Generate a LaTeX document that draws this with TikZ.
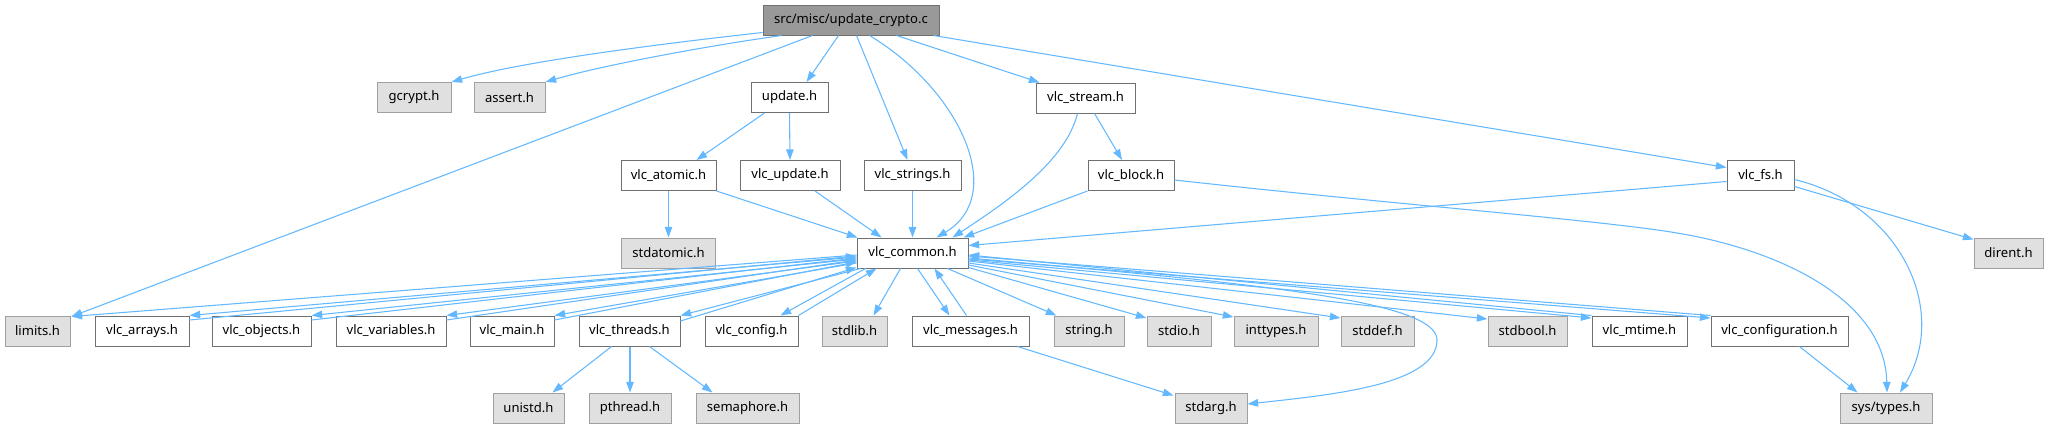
\documentclass[tikz,border=0pt]{standalone}
\usepackage{fontspec}
\setmainfont{Noto Sans}
\usetikzlibrary{arrows.meta,calc}
\definecolor{edgec}{HTML}{63B8FF}
\definecolor{wbord}{HTML}{707070}
\definecolor{gbord}{HTML}{A0A0A0}
\definecolor{gfill}{HTML}{E0E0E0}
\definecolor{rfill}{HTML}{999999}
\begin{document}
\begin{tikzpicture}[x=0.75pt,y=-0.75pt,
  box/.style={draw, line width=0.75pt, minimum height=22.5pt, inner sep=0pt, font=\fontsize{9.8pt}{11pt}\selectfont, text=black},
  wbox/.style={box, draw=wbord, fill=white},
  gbox/.style={box, draw=gbord, fill=gfill},
  rbox/.style={box, draw=wbord, fill=rfill},
  e/.style={draw=edgec, line width=0.8pt, -{Triangle[length=8pt,width=5.6pt]}, fill=none},
]
\useasboundingbox (0,0) rectangle (2051,429);
% row 0
\node[rbox, minimum width=132pt] (root) at (851,20) {src/misc/update\_crypto.c};
% row 1
\node[gbox, minimum width=55.5pt] (gcrypt) at (414,97.5) {gcrypt.h};
\node[gbox, minimum width=53.25pt] (assert) at (509.5,97.5) {assert.h};
\node[wbox, minimum width=57.75pt] (update) at (789.5,97.5) {update.h};
\node[wbox, minimum width=74.25pt] (vlcstream) at (1085.5,98) {vlc\_stream.h};
% row 2
\node[wbox, minimum width=71.25pt] (vlcatomic) at (668.5,175.5) {vlc\_atomic.h};
\node[wbox, minimum width=75pt] (vlcupdate) at (790,175.5) {vlc\_update.h};
\node[wbox, minimum width=72.75pt] (vlcstrings) at (912.5,175.5) {vlc\_strings.h};
\node[wbox, minimum width=64.5pt] (vlcblock) at (1131,175.5) {vlc\_block.h};
\node[wbox, minimum width=50.25pt] (vlcfs) at (1760.5,175.5) {vlc\_fs.h};
% row 3
\node[gbox, minimum width=70.5pt] (stdatomic) at (668.5,253) {stdatomic.h};
\node[wbox, minimum width=83.25pt] (vlccommon) at (912.5,253) {vlc\_common.h};
\node[gbox, minimum width=51.75pt] (dirent) at (2008.5,253) {dirent.h};
% row 4
\node[gbox, minimum width=48.75pt] (limits) at (37.5,331) {limits.h};
\node[wbox, minimum width=70.5pt] (vlcarrays) at (142,331) {vlc\_arrays.h};
\node[wbox, minimum width=74.25pt] (vlcobjects) at (261.5,331) {vlc\_objects.h};
\node[wbox, minimum width=82.5pt] (vlcvariables) at (391,331) {vlc\_variables.h};
\node[wbox, minimum width=63pt] (vlcmain) at (512,331) {vlc\_main.h};
\node[wbox, minimum width=75.75pt] (vlcthreads) at (629.5,331) {vlc\_threads.h};
\node[wbox, minimum width=69.75pt] (vlcconfig) at (751.5,331) {vlc\_config.h};
\node[gbox, minimum width=48.75pt] (stdlib) at (854.5,331) {stdlib.h};
\node[wbox, minimum width=87.75pt] (vlcmessages) at (970.5,331) {vlc\_messages.h};
\node[gbox, minimum width=52.5pt] (string) at (1089,331) {string.h};
\node[gbox, minimum width=48pt] (stdio) at (1179,331) {stdio.h};
\node[gbox, minimum width=63pt] (inttypes) at (1276,331) {inttypes.h};
\node[gbox, minimum width=54.75pt] (stddef) at (1377.5,331) {stddef.h};
\node[gbox, minimum width=59.25pt] (stdbool) at (1527.5,331) {stdbool.h};
\node[wbox, minimum width=71.25pt] (vlcmtime) at (1639.5,331) {vlc\_mtime.h};
\node[wbox, minimum width=102.75pt] (vlcconfiguration) at (1779.5,331) {vlc\_configuration.h};
% row 5
\node[gbox, minimum width=53.25pt] (unistd) at (528.5,408) {unistd.h};
\node[gbox, minimum width=61.5pt] (pthread) at (630,408) {pthread.h};
\node[gbox, minimum width=77.25pt] (semaphore) at (747.5,408) {semaphore.h};
\node[gbox, minimum width=54pt] (stdarg) at (1211,408) {stdarg.h};
\node[gbox, minimum width=69pt] (systypes) at (1886,408) {sys/types.h};

% edges from root
\draw[e] ($(root.south west)+(0,-3)$) .. controls (650,45) and (520,62) .. (gcrypt.north east);
\draw[e] ($(root.south west)+(19,0)$) .. controls (700,47) and (600,66) .. (assert.north east);
\draw[e] ($(root.south west)+(50,0)$) -- ($(limits.north east)+(1,1)$);
\draw[e] ($(root.south west)+(76,0)$) -- ($(update.north)+(17,0)$);
\draw[e] ($(root.south west)+(94,0)$) -- ($(vlcstrings.north)+(-5,0)$);
\draw[e] ($(root.south west)+(107,0)$) .. controls (960,90) and (1008,195) .. ($(vlccommon.north)+(24,0)$);
\draw[e] ($(root.south west)+(134,0)$) -- ($(vlcstream.north west)+(4,0)$);
\draw[e] ($(root.south east)+(-6,0)$) -- ($(vlcfs.west)+(0,-8)$);
% update.h
\draw[e] ($(update.south west)+(14,0)$) -- ($(vlcatomic.north)+(28,0)$);
\draw[e] (update.south) -- (vlcupdate.north);
% vlc_atomic
\draw[e] (vlcatomic.south) -- (stdatomic.north);
\draw[e] (vlcatomic.south east) -- ($(vlccommon.north west)+(1,0)$);
% vlc_update, vlc_strings
\draw[e] ($(vlcupdate.south)+(25,0)$) -- ($(vlccommon.north west)+(25,0)$);
\draw[e] (vlcstrings.south) -- (vlccommon.north);
% vlc_stream
\draw[e] ($(vlcstream.south)+(-8,0)$) .. controls (1066,160) and (1010,200) .. ($(vlccommon.north)+(40,0)$);
\draw[e] ($(vlcstream.south)+(9,0)$) -- ($(vlcblock.north)+(-9,0)$);
% vlc_block
\draw[e] (vlcblock.south west) -- ($(vlccommon.north east)+(-5,0)$);
\draw[e] ($(vlcblock.east)+(0,4.5)$) .. controls (1400,205) and (1600,220) .. (1677,233)
   .. controls (1780,250) and (1885,300) .. ($(systypes.north)+(1,0)$);
% vlc_fs
\draw[e] ($(vlcfs.west)+(0,6)$) -- ($(vlccommon.north east)+(0,8)$);
\draw[e] ($(vlcfs.east)+(0,11)$) -- ($(dirent.north west)+(0,2)$);
\draw[e] ($(vlcfs.east)+(0,4)$) .. controls (1900,205) and (1950,310) .. ($(systypes.north)+(14,0)$);

% vlc_common forward edges (left)
\draw[e] ($(vlccommon.west)+(0,2)$) -- ($(limits.north east)+(1,1)$);
\draw[e] ($(vlccommon.west)+(0,4)$) -- (vlcarrays.north east);
\draw[e] ($(vlccommon.west)+(0,6)$) -- (vlcobjects.north east);
\draw[e] ($(vlccommon.west)+(0,8)$) -- (vlcvariables.north east);
\draw[e] ($(vlccommon.west)+(0,10)$) -- (vlcmain.north east);
\draw[e] ($(vlccommon.south west)+(4,0)$) -- (vlcthreads.north east);
\draw[e] ($(vlccommon.south west)+(9,0)$) -- ($(vlcconfig.north east)+(-18,0)$);
\draw[e] ($(vlccommon.south)+(-12,0)$) -- ($(stdlib.north)+(19,0)$);
\draw[e] ($(vlccommon.south)+(5,0)$) -- ($(vlcmessages.north west)+(38,0)$);
% back edges (left)
\draw[e] ($(vlcarrays.east)+(0,-11)$) -- ($(vlccommon.west)+(0,3)$);
\draw[e] ($(vlcobjects.east)+(0,-11)$) -- ($(vlccommon.west)+(0,5)$);
\draw[e] ($(vlcvariables.east)+(0,-11)$) -- ($(vlccommon.west)+(0,7)$);
\draw[e] ($(vlcmain.east)+(0,-11)$) -- ($(vlccommon.west)+(0,9)$);
\draw[e] ($(vlcthreads.east)+(0,-10)$) -- ($(vlccommon.south west)+(0,-1)$);
\draw[e] (vlcconfig.north east) -- ($(vlccommon.south west)+(20,0)$);
\draw[e] ($(vlcmessages.north west)+(55,0)$) -- ($(vlccommon.south)+(22,0)$);
% vlc_common forward edges (right)
\draw[e] ($(vlccommon.south east)+(-21,0)$) -- ($(string.north west)+(3,0)$);
\draw[e] ($(vlccommon.south east)+(0,-1)$) -- ($(stdio.west)+(0,-13)$);
\draw[e] ($(vlccommon.east)+(0,12)$) -- ($(inttypes.west)+(0,-14)$);
\draw[e] ($(vlccommon.east)+(0,10)$) -- ($(stddef.west)+(0,-13)$);
\draw[e] ($(vlccommon.east)+(0,8)$) -- ($(stdbool.west)+(0,-12)$);
\draw[e] ($(vlccommon.east)+(0,7)$) -- ($(vlcmtime.west)+(0,-13)$);
\draw[e] ($(vlccommon.east)+(0,6)$) -- ($(vlcconfiguration.west)+(0,-13)$);
\draw[e] ($(vlccommon.east)+(0,5)$) .. controls (1250,283) and (1437,300) .. (1437,340)
   .. controls (1437,385) and (1330,395) .. ($(stdarg.east)+(0,-4)$);
% back edges (right)
\draw[e] (vlcmtime.north west) -- ($(vlccommon.east)+(0,2)$);
\draw[e] (vlcconfiguration.north west) -- ($(vlccommon.east)+(0,3)$);

% vlc_threads
\draw[e] ($(vlcthreads.south)+(-18,0)$) -- ($(unistd.north east)+(-12,0)$);
\draw[e] ($(vlcthreads.south)+(0.5,0)$) -- (pthread.north);
\draw[e] ($(vlcthreads.south)+(20,0)$) -- ($(semaphore.north)+(-35,0)$);
% vlc_messages
\draw[e] ($(vlcmessages.south east)+(-12,0)$) -- ($(stdarg.north west)+(-1,3)$);
% vlc_configuration
\draw[e] ($(vlcconfiguration.south)+(20,0)$) -- ($(systypes.north west)+(18,0)$);
\end{tikzpicture}
\end{document}
